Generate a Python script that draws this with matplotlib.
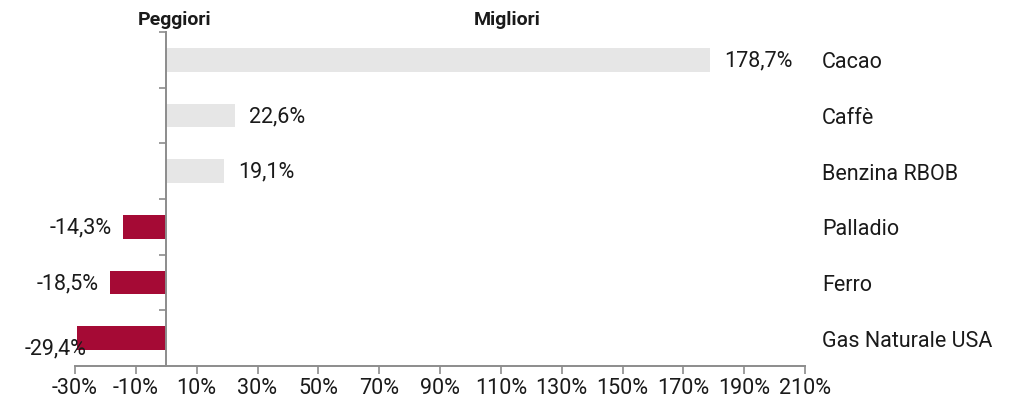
import matplotlib
matplotlib.use("Agg")
import matplotlib.pyplot as plt
from matplotlib.transforms import blended_transform_factory, offset_copy

categories = ["Cacao", "Caffè", "Benzina RBOB", "Palladio", "Ferro", "Gas Naturale USA"]
values = [178.7, 22.6, 19.1, -14.3, -18.5, -29.4]
value_labels = ["178,7%", "22,6%", "19,1%", "-14,3%", "-18,5%", "-29,4%"]
xticks = list(range(-30, 211, 20))
xtick_labels = [f"{t}%" for t in xticks]
headers = ["Peggiori", "Migliori"]

plt.rcParams['font.family'] = ['Roboto', 'DejaVu Sans']

POS = "#E6E6E6"
NEG = "#A50A35"
AXC = "#8C8C8C"
TXT = "#1a1a1a"
FS = 15.5

fig = plt.figure(figsize=(10.18, 4.08), dpi=100)
ax = fig.add_axes([75/1018, 1-366/408, (805-75)/1018, (366-32)/408])

ypos = list(range(len(categories)))
colors = [POS if v >= 0 else NEG for v in values]
ax.barh(ypos, values, height=0.42, color=colors, zorder=2)

ax.set_xlim(-30, 210)
ax.set_ylim(len(categories) - 0.5, -0.5)

ax.set_xticks(xticks)
ax.set_xticklabels(xtick_labels, fontsize=FS, color=TXT)
ax.set_yticks([i - 0.5 for i in range(len(categories) + 1)])
ax.set_yticklabels([])
ax.tick_params(axis='x', direction='out', length=6, width=1.2, color=AXC, pad=3)
ax.tick_params(axis='y', direction='out', length=5, width=1.2, color=AXC)

for s in ["top", "right"]:
    ax.spines[s].set_visible(False)
ax.spines['left'].set_position(('data', 0))
ax.spines['left'].set_color(AXC)
ax.spines['left'].set_linewidth(1.4)
ax.spines['bottom'].set_color(AXC)
ax.spines['bottom'].set_linewidth(1.4)
ax.spines['left'].set_zorder(3)

for y, v, lab in zip(ypos, values, value_labels):
    if v >= 0:
        tr = offset_copy(ax.transData, fig=fig, x=14, y=-1, units='dots')
        ax.text(v, y, lab, transform=tr, ha='left', va='center', fontsize=FS, color=TXT)
    else:
        if v <= ax.get_xlim()[0] + 2:
            tr = offset_copy(ax.transData, fig=fig, x=10, y=-11, units='dots')
            ax.text(v, y, lab, transform=tr, ha='right', va='center', fontsize=FS, color=TXT)
        else:
            tr = offset_copy(ax.transData, fig=fig, x=-11, y=-1, units='dots')
            ax.text(v, y, lab, transform=tr, ha='right', va='center', fontsize=FS, color=TXT)

bt = offset_copy(blended_transform_factory(ax.transAxes, ax.transData), fig=fig, x=0, y=-3, units='dots')
for y, c in zip(ypos, categories):
    ax.text((822 - 75) / 730, y, c, transform=bt, ha='left', va='center', fontsize=FS, color=TXT)

fig.text(175/1018, 1-20/408, headers[0], ha='center', va='center', fontsize=14, fontweight='bold', color=TXT)
fig.text(507/1018, 1-20/408, headers[1], ha='center', va='center', fontsize=14, fontweight='bold', color=TXT)

fig.savefig("out.png", dpi=100)
